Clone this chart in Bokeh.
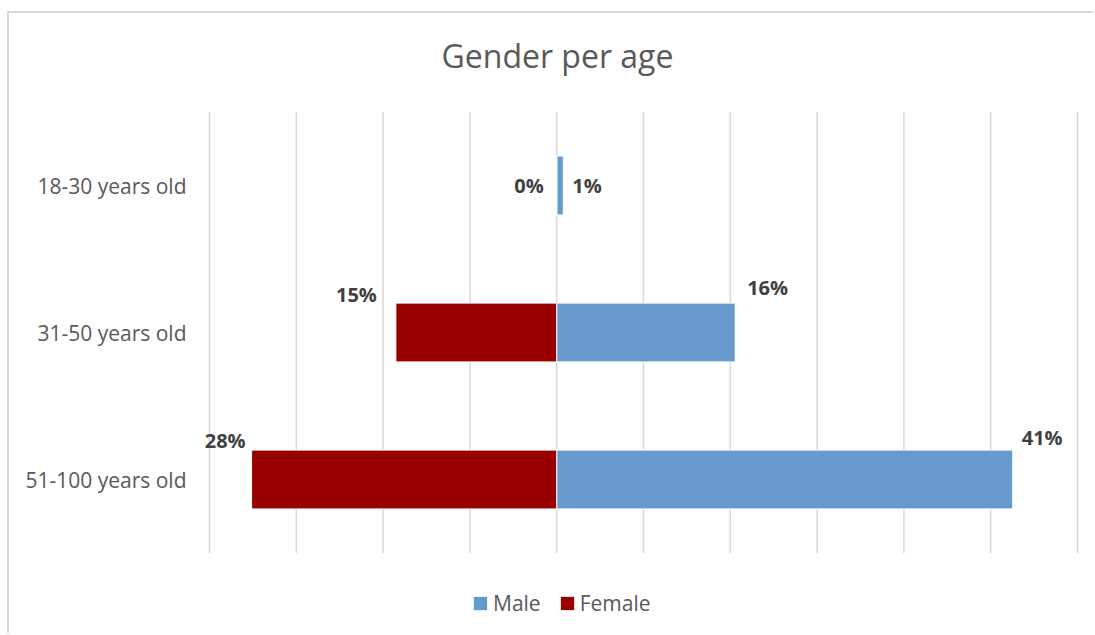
from bokeh.plotting import figure
from bokeh.models import Range1d, Label, Legend, LegendItem, ColumnDataSource
from bokeh.core.properties import value
from bokeh.embed import file_html
from bokeh.resources import INLINE

# ---- data ----
categories = ["18-30 years old", "31-50 years old", "51-100 years old"]
male = [0.006, 0.162, 0.414]
female = [0.0, 0.146, 0.277]
series_names = ["Male", "Female"]
title_text = "Gender per age"

# ---- styling (label offsets in screen px) ----
male_dx = [9, 12, 9]
male_dy = [0, -45, -42]
female_dx = [-13, -19, -6]
female_dy = [0, -38, -39]
FONT = "Open Sans"
MALE_COLOR = "#6699CC"
FEMALE_COLOR = "#990000"
TEXT_GRAY = "#595959"
LABEL_GRAY = "#404040"
GRID_GRAY = "#d9d9d9"

W, H = 1086, 622
GRID_L, GRID_R = 200, 1068          # grid area, canvas px

n = len(categories)
ypos = [n - 1 - i for i in range(n)]          # first category on top
x_start, x_end = -0.3152, 0.4728               # value axis limits
step = (x_end - x_start) / 10
ticks = [x_start + k * step for k in range(11)]
ppu = (GRID_R - GRID_L) / (x_end - x_start)    # px per unit

p = figure(width=W, height=H, output_backend="svg", toolbar_location=None,
           x_range=Range1d(x_start - GRID_L / ppu, x_end + (W - GRID_R) / ppu),
           y_range=Range1d(-1.061, 3.17),
           min_border_left=0, min_border_right=0,
           min_border_top=0, min_border_bottom=0)
p.styles = {"margin-left": "7px", "margin-top": "11px",
            "border-left": "2px solid #d9d9d9", "border-top": "2px solid #d9d9d9"}

p.outline_line_color = None
p.xaxis.visible = False
p.yaxis.visible = False
p.xgrid.grid_line_color = None
p.ygrid.grid_line_color = None

# vertical gridlines spanning the category bands
p.segment(x0=ticks, x1=ticks, y0=[-0.5] * len(ticks), y1=[n - 0.5] * len(ticks),
          line_color=GRID_GRAY, line_width=1.5)

src = ColumnDataSource(dict(
    y=ypos,
    cat=categories,
    axis_x=[x_start] * n,
    male=male,
    female_neg=[-v for v in female],
    male_lbl=[f"{round(v * 100)}%" for v in male],
    female_lbl=[f"{round(v * 100)}%" for v in female],
    mdx=male_dx, mdy=male_dy, fdx=female_dx, fdy=female_dy,
))

# category labels (left axis)
p.text(x="axis_x", y="y", text="cat", x_offset=-23, source=src,
       text_align="right", text_baseline="middle",
       text_font=value(FONT), text_font_size="21px", text_color=TEXT_GRAY)

rm = p.hbar(y="y", left=0, right="male", height=0.4, source=src,
            fill_color=MALE_COLOR, line_color="white", line_width=1)
rf = p.hbar(y="y", left="female_neg", right=0, height=0.4, source=src,
            fill_color=FEMALE_COLOR, line_color="white", line_width=1)

p.text(x="male", y="y", text="male_lbl", x_offset="mdx", y_offset="mdy",
       source=src, text_align="left", text_baseline="middle",
       text_font=value(FONT), text_font_style="bold",
       text_font_size="20px", text_color=LABEL_GRAY)
p.text(x="female_neg", y="y", text="female_lbl", x_offset="fdx", y_offset="fdy",
       source=src, text_align="right", text_baseline="middle",
       text_font=value(FONT), text_font_style="bold",
       text_font_size="20px", text_color=LABEL_GRAY)

title = Label(x=557 - 9, y=580, x_units="screen", y_units="screen",
              text=title_text, text_align="center", text_baseline="alphabetic",
              text_font=FONT, text_font_size="32px", text_color=TEXT_GRAY)
p.add_layout(title)

legend = Legend(items=[LegendItem(label=series_names[0], renderers=[rm]),
                       LegendItem(label=series_names[1], renderers=[rf])],
                orientation="horizontal", location=(471 - 9, 18),
                glyph_width=18, glyph_height=18, label_height=18,
                label_standoff=4, spacing=17,
                padding=0, margin=0, border_line_color=None,
                background_fill_alpha=0,
                label_text_font=FONT, label_text_font_size="21px",
                label_text_color=TEXT_GRAY)
p.add_layout(legend)

open("out.html", "w").write(file_html(p, INLINE))
